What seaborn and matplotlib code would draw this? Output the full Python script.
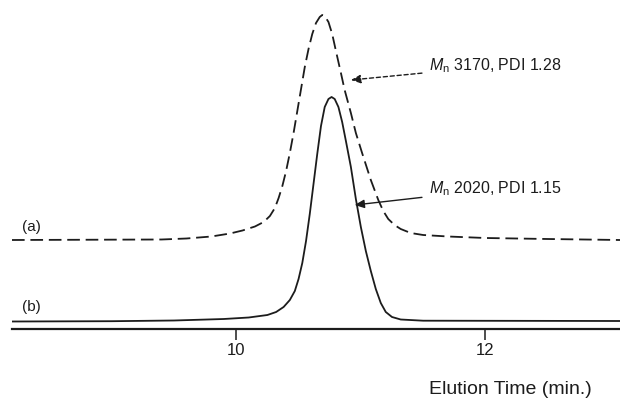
import numpy as np
import pandas as pd
import matplotlib
matplotlib.use("Agg")
import matplotlib.pyplot as plt
import seaborn as sns

# trace (a): dashed, Mn 3170
time_a = [8.20, 9.40, 9.60, 9.80, 9.95, 10.05, 10.15, 10.22, 10.27, 10.31, 10.34,
          10.37, 10.40, 10.43, 10.46, 10.49, 10.52, 10.55, 10.58, 10.61, 10.64,
          10.67, 10.69, 10.71, 10.74, 10.77, 10.80, 10.84, 10.87, 10.92, 10.96,
          11.01, 11.08, 11.14, 11.18, 11.22, 11.27, 11.32, 11.40, 11.50, 11.70,
          12.00, 12.50, 13.08]
sig_a = [89, 89.5, 90.5, 92.5, 95.5, 98.5, 102.5, 107, 113, 121, 131,
         143, 158, 176, 196, 218, 240, 262, 280, 295, 306,
         312, 314, 313, 307, 295, 278, 256, 239, 216, 196,
         176, 149, 129, 118, 110, 104, 100, 96, 94, 92.5,
         91, 90, 89]

# trace (b): solid, Mn 2020
time_b = [8.20, 9.00, 9.50, 9.90, 10.10, 10.25, 10.32, 10.38, 10.43, 10.47, 10.50,
          10.53, 10.56, 10.59, 10.62, 10.65, 10.68, 10.71, 10.74, 10.765, 10.79,
          10.82, 10.85, 10.88, 10.92, 10.96, 11.00, 11.04, 11.08, 11.12, 11.16,
          11.20, 11.25, 11.32, 11.50, 13.08]
sig_b = [7.5, 7.8, 8.5, 10, 11.5, 14, 17, 22, 29, 38, 50,
         66, 88, 115, 145, 175, 203, 222, 230, 232, 230,
         222, 207, 188, 162, 130, 102, 78, 58, 40, 26,
         17, 12, 9.5, 8.3, 8]

ticks = [10, 12]
labels_ab = ["(a)", "(b)"]
notes = [r"$M_\mathrm{n}$ 3170, PDI 1.28", r"$M_\mathrm{n}$ 2020, PDI 1.15"]

sns.set_style("white")
plt.rcParams["font.family"] = ["Liberation Sans", "DejaVu Sans"]
plt.rcParams["mathtext.fontset"] = "custom"
plt.rcParams["mathtext.rm"] = "Liberation Sans"
plt.rcParams["mathtext.it"] = "Liberation Sans:italic"

ink = "#1c1c1c"
fig = plt.figure(figsize=(6.2, 4.01), dpi=100)
ax = fig.add_axes([12 / 620, 1 - 329 / 401, 608 / 620, 329 / 401])

da = pd.DataFrame({"t": time_a, "s": sig_a})
db = pd.DataFrame({"t": time_b, "s": sig_b})
sns.lineplot(data=da, x="t", y="s", ax=ax, color=ink, lw=1.3, linestyle=(0, (7, 3.2)))
sns.lineplot(data=db, x="t", y="s", ax=ax, color=ink, lw=1.3)

ax.set_xlim(8.20, 13.08)
ax.set_ylim(0, 329)
ax.set_ylabel("")
for s in ["left", "right", "top"]:
    ax.spines[s].set_visible(False)
ax.spines["bottom"].set_color(ink)
ax.spines["bottom"].set_linewidth(1.6)
ax.set_yticks([])
ax.set_xticks(ticks)
ax.set_xticklabels([str(t) for t in ticks], fontsize=12, color=ink)
ax.tick_params(axis="x", direction="out", length=8, width=1.1, color=ink, pad=2, bottom=True)

ax.set_xlabel("Elution Time (min.)", fontsize=14, color=ink)
ax.xaxis.set_label_coords((592 - 12) / 608, (329 - 390) / 329)
ax.xaxis.label.set_ha("right")
ax.xaxis.label.set_va("center")

ax.text(8.28, 102, labels_ab[0], fontsize=11, color=ink, va="center")
ax.text(8.28, 22, labels_ab[1], fontsize=11, color=ink, va="center")

ax.annotate(notes[0], xy=(10.92, 249), xytext=(11.55, 263), fontsize=11.5, color=ink,
            va="center", ha="left",
            arrowprops=dict(arrowstyle="-|>,head_length=0.5,head_width=0.22", color=ink,
                            lw=1.0, linestyle=(0, (3, 2)), shrinkA=3, shrinkB=0))
ax.annotate(notes[1], xy=(10.95, 124), xytext=(11.55, 140), fontsize=11.5, color=ink,
            va="center", ha="left",
            arrowprops=dict(arrowstyle="-|>,head_length=0.5,head_width=0.22", color=ink,
                            lw=1.0, shrinkA=3, shrinkB=0))

fig.savefig("out.png", dpi=100)
